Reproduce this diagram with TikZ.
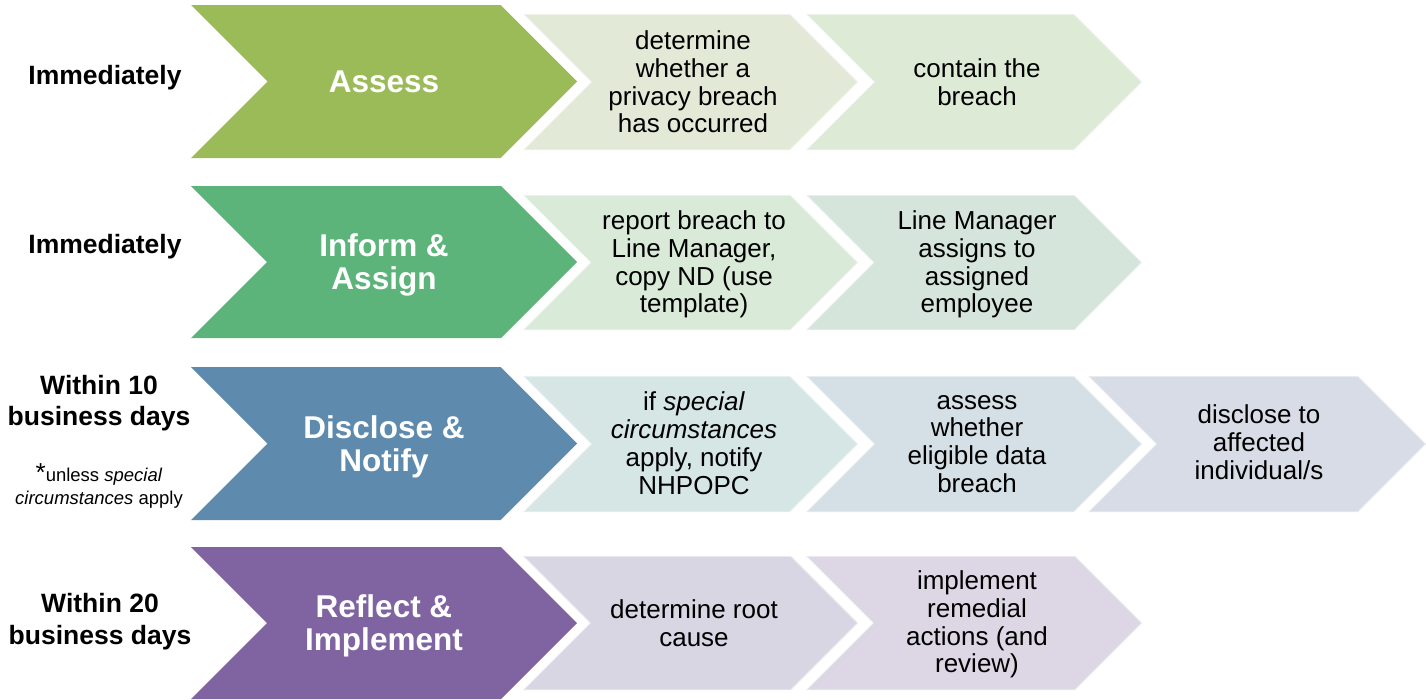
\documentclass[tikz,border=0pt]{standalone}
\usepackage{fontspec}
\setmainfont{Liberation Sans}
\usetikzlibrary{positioning}

\definecolor{assessgreen}{HTML}{9BBB59}
\definecolor{informgreen}{HTML}{5CB47B}
\definecolor{discloseblue}{HTML}{5E8BAD}
\definecolor{reflectpurple}{HTML}{8064A2}
\definecolor{assessA}{HTML}{E2E9D6}
\definecolor{assessB}{HTML}{DCEAD6}
\definecolor{informA}{HTML}{D9EAD9}
\definecolor{informB}{HTML}{D5E5DC}
\definecolor{discloseA}{HTML}{D5E6E4}
\definecolor{discloseB}{HTML}{D5E0E6}
\definecolor{discloseC}{HTML}{D8DCE6}
\definecolor{reflectA}{HTML}{D9D6E3}
\definecolor{reflectB}{HTML}{DCD6E5}

% chevron: style, left x, tip x, top y, bottom y
\newcommand\chevron[5]{%
  \path[#1] (#2,#4) -- ({#3-(#5-#4)/2},#4) -- (#3,{(#4+#5)/2})
    -- ({#3-(#5-#4)/2},#5) -- (#2,#5) -- ({#2+(#5-#4)/2},{(#4+#5)/2}) -- cycle;}

\begin{document}
\begin{tikzpicture}[x=1pt, y=-1pt,
  bigstep/.style={fill=#1},
  smallstep/.style={fill=#1, draw=white, draw opacity=0.45, line width=1.5pt},
  bigtext/.style={text=white, align=center, inner sep=0pt,
                  font=\fontsize{31.5}{33}\selectfont\bfseries},
  steptext/.style={text=black, align=center, inner sep=0pt,
                   font=\fontsize{26}{27.8}\selectfont},
  when/.style={align=center, inner sep=0pt, font=\fontsize{26.5}{31.5}\selectfont\bfseries},
  note/.style={align=center, inner sep=0pt, font=\fontsize{18.5}{23}\selectfont}
]
  \useasboundingbox (0,0) rectangle (1426,699);

  % row 1
  \chevron{smallstep=assessA}{523}{858}{14}{150}
  \chevron{smallstep=assessB}{806}{1142}{14}{150}
  \chevron{bigstep=assessgreen}{191}{577}{5}{158}
  \node[when]     (when1)   at (105,78)   {Immediately};
  \node[bigtext]  (assess)  at (384,81.5) {Assess};
  \node[steptext] (detect)  at (693,82)   {determine\\whether a\\privacy breach\\has occurred};
  \node[steptext] (contain) at (977,82)   {contain the\\breach};

  % row 2
  \chevron{smallstep=informA}{523}{858}{195}{330}
  \chevron{smallstep=informB}{806}{1142}{195}{330}
  \chevron{bigstep=informgreen}{191}{577}{186}{338}
  \node[when]     (when2)   at (105,247) {Immediately};
  \node[bigtext]  (inform)  at (384,265) {Inform \&\\Assign};
  \node[steptext] (report)  at (694,264.5) {report breach to\\Line Manager,\\copy ND (use\\template)};
  \node[steptext] (assign)  at (977,264.5) {Line Manager\\assigns to\\assigned\\employee};

  % row 3
  \chevron{smallstep=discloseA}{523}{858}{376}{512}
  \chevron{smallstep=discloseB}{806}{1142}{376}{512}
  \chevron{smallstep=discloseC}{1088}{1426}{376}{512}
  \chevron{bigstep=discloseblue}{191}{577}{367}{520}
  \node[when]     (when3)   at (99,403)   {Within 10\\business days};
  \node[note]     (unless)  at (99,486) {{\fontsize{26}{23}\selectfont *}unless \textit{special}\\\textit{circumstances} apply};
  \node[bigtext]  (disclose) at (384,446.5) {Disclose \&\\Notify};
  \node[steptext] (notify)  at (694,443)  {if \textit{special}\\\textit{circumstances}\\apply, notify\\NHPOPC};
  \node[steptext] (eligible) at (977,444) {assess\\whether\\eligible data\\breach};
  \node[steptext] (affected) at (1259,442) {disclose to\\affected\\individual/s};

  % row 4
  \chevron{smallstep=reflectA}{523}{858}{556}{690}
  \chevron{smallstep=reflectB}{806}{1142}{556}{690}
  \chevron{bigstep=reflectpurple}{191}{577}{547}{699}
  \node[when]     (when4)   at (100,621.5) {Within 20\\business days};
  \node[bigtext]  (reflect) at (384,626) {Reflect \&\\Implement};
  \node[steptext] (cause)   at (694,623) {determine root\\cause};
  \node[steptext] (remedy)  at (977,624.5) {implement\\remedial\\actions (and\\review)};
\end{tikzpicture}
\end{document}
